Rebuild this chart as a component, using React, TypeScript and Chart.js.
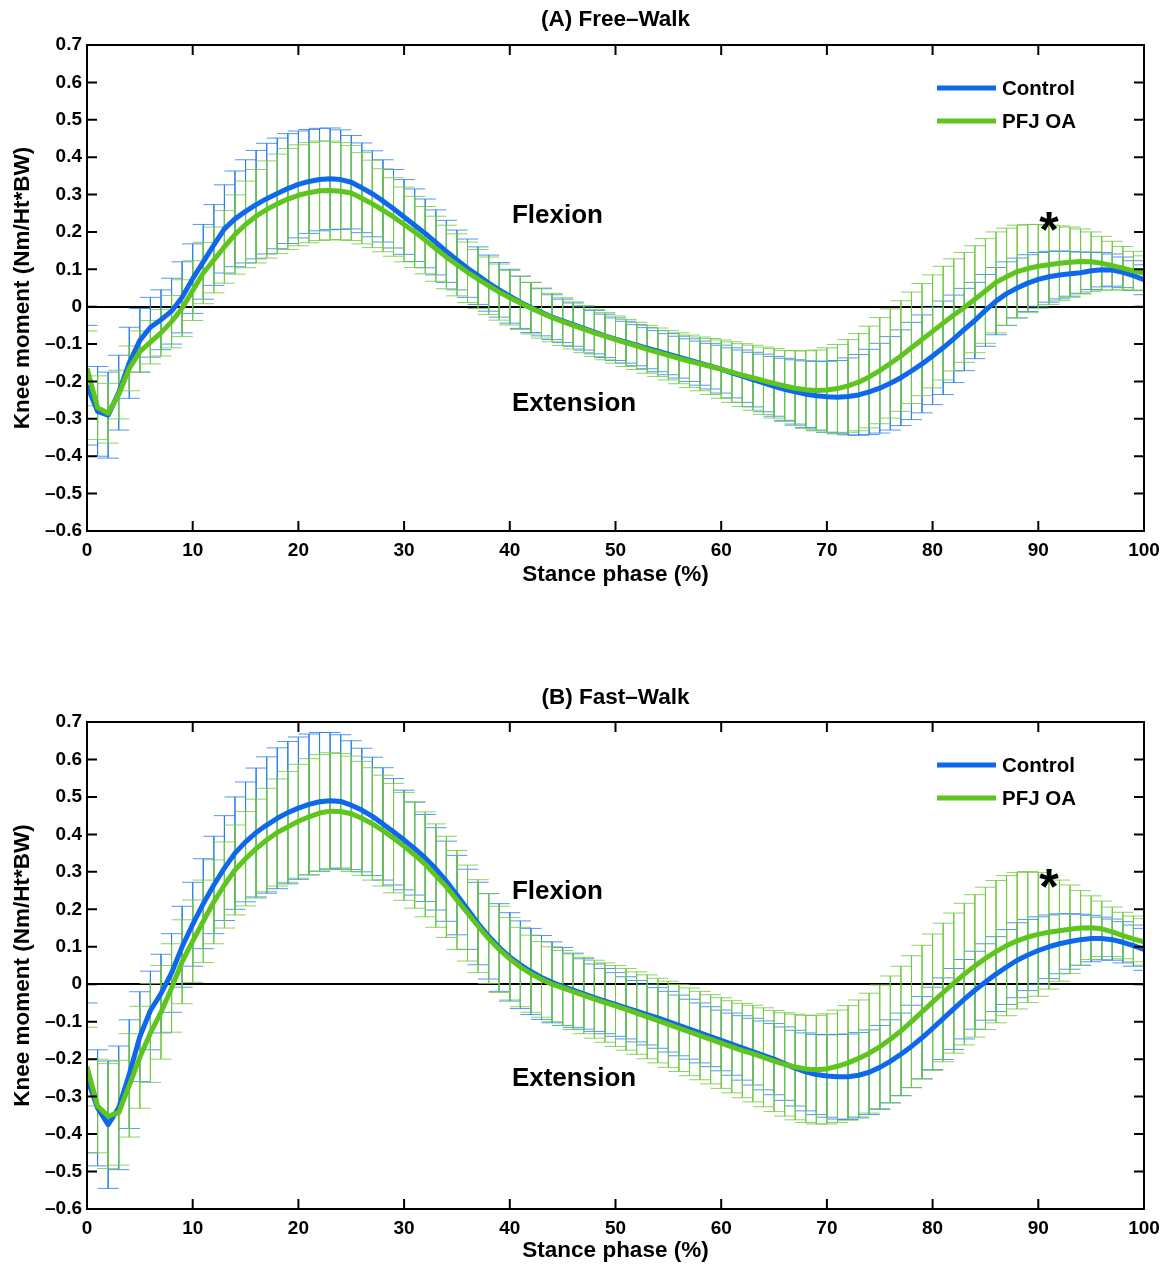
import React, { useEffect, useRef } from 'react';
import { Chart, registerables } from 'chart.js';

Chart.register(...registerables);

// ---------- data ----------
const stancePct = [
  0, 1, 2, 3, 4, 5, 6, 7, 8, 9, 10, 11, 12, 13, 14, 15, 16, 17, 18, 19, 20,
  21, 22, 23, 24, 25, 26, 27, 28, 29, 30, 31, 32, 33, 34, 35, 36, 37, 38, 39, 40,
  41, 42, 43, 44, 45, 46, 47, 48, 49, 50, 51, 52, 53, 54, 55, 56, 57, 58, 59, 60,
  61, 62, 63, 64, 65, 66, 67, 68, 69, 70, 71, 72, 73, 74, 75, 76, 77, 78, 79, 80,
  81, 82, 83, 84, 85, 86, 87, 88, 89, 90, 91, 92, 93, 94, 95, 96, 97, 98, 99, 100,
];

const seriesLabels = ['Control', 'PFJ OA'];
const panelTitles = ['(A) Free\u2013Walk', '(B) Fast\u2013Walk'];
const xAxisTitle = 'Stance phase (%)';
const yAxisTitle = 'Knee moment (Nm/Ht*BW)';
const xTickStep = 10;
const yTickStep = 0.1;
const xRange = [0, 100];
const yRange = [-0.6, 0.7];

// Panel A (free walk)
const controlMeanA = [
  -0.21, -0.28, -0.29, -0.23, -0.15, -0.09, -0.055, -0.035, -0.012, 0.025,
  0.075, 0.12, 0.165, 0.208, 0.235, 0.255, 0.273, 0.289, 0.303, 0.316,
  0.327, 0.335, 0.34, 0.342, 0.34, 0.333, 0.318, 0.302, 0.283, 0.262,
  0.24, 0.218, 0.196, 0.172, 0.148, 0.125, 0.103, 0.083, 0.063, 0.045,
  0.028, 0.012, -0.002, -0.015, -0.028, -0.038, -0.048, -0.058, -0.068, -0.078,
  -0.087, -0.095, -0.103, -0.111, -0.119, -0.127, -0.135, -0.143, -0.151, -0.159,
  -0.167, -0.177, -0.186, -0.195, -0.204, -0.213, -0.221, -0.228, -0.234, -0.238,
  -0.241, -0.242, -0.24, -0.236, -0.228, -0.218, -0.205, -0.19, -0.172, -0.153,
  -0.132, -0.11, -0.086, -0.061, -0.037, -0.01, 0.015, 0.035, 0.05, 0.063,
  0.073, 0.08, 0.085, 0.088, 0.091, 0.096, 0.099, 0.098, 0.092, 0.083,
  0.072,
];
const controlSdA = [
  0.16, 0.12, 0.115, 0.1, 0.095, 0.085, 0.08, 0.08, 0.088, 0.095,
  0.093, 0.1, 0.108, 0.118, 0.128, 0.138, 0.145, 0.148, 0.148, 0.147,
  0.143, 0.139, 0.137, 0.136, 0.133, 0.125, 0.12, 0.115, 0.11, 0.105,
  0.1, 0.097, 0.092, 0.087, 0.083, 0.08, 0.078, 0.077, 0.075, 0.073,
  0.072, 0.07, 0.067, 0.063, 0.06, 0.058, 0.058, 0.058, 0.058, 0.058,
  0.057, 0.056, 0.055, 0.055, 0.055, 0.055, 0.056, 0.057, 0.059, 0.061,
  0.064, 0.067, 0.07, 0.073, 0.077, 0.08, 0.083, 0.086, 0.089, 0.092,
  0.095, 0.098, 0.103, 0.108, 0.114, 0.12, 0.125, 0.128, 0.13, 0.131,
  0.13, 0.125, 0.117, 0.11, 0.102, 0.096, 0.09, 0.085, 0.08, 0.076,
  0.072, 0.068, 0.064, 0.06, 0.055, 0.05, 0.046, 0.043, 0.041, 0.04,
  0.04,
];
const pfjMeanA = [
  -0.165, -0.27, -0.285, -0.235, -0.165, -0.12, -0.095, -0.07, -0.04, -0.004,
  0.043, 0.09, 0.125, 0.16, 0.193, 0.22, 0.242, 0.26, 0.275, 0.288,
  0.298, 0.305, 0.31, 0.311, 0.309, 0.304, 0.29, 0.275, 0.258, 0.24,
  0.22, 0.2, 0.178, 0.155, 0.133, 0.112, 0.092, 0.074, 0.056, 0.039,
  0.024, 0.01, -0.004, -0.017, -0.029, -0.04, -0.05, -0.06, -0.07, -0.079,
  -0.088, -0.097, -0.105, -0.114, -0.122, -0.13, -0.138, -0.146, -0.153, -0.16,
  -0.167, -0.175, -0.183, -0.19, -0.198, -0.205, -0.212, -0.218, -0.222, -0.224,
  -0.223, -0.219, -0.212, -0.202, -0.188, -0.171, -0.152, -0.132, -0.11, -0.088,
  -0.066, -0.044, -0.022, -0.002, 0.02, 0.042, 0.065, 0.08, 0.094, 0.102,
  0.108, 0.112, 0.116, 0.119, 0.121, 0.12, 0.116, 0.11, 0.103, 0.096,
  0.09,
];
const pfjSdA = [
  0.1, 0.085, 0.08, 0.065, 0.06, 0.055, 0.058, 0.062, 0.07, 0.076,
  0.08, 0.082, 0.088, 0.097, 0.106, 0.116, 0.125, 0.13, 0.133, 0.135,
  0.135, 0.134, 0.133, 0.132, 0.13, 0.127, 0.122, 0.117, 0.111, 0.105,
  0.1, 0.095, 0.09, 0.087, 0.085, 0.083, 0.081, 0.079, 0.077, 0.075,
  0.073, 0.071, 0.069, 0.067, 0.065, 0.064, 0.063, 0.063, 0.063, 0.063,
  0.063, 0.063, 0.063, 0.064, 0.065, 0.066, 0.068, 0.07, 0.072, 0.075,
  0.078, 0.081, 0.084, 0.087, 0.09, 0.093, 0.095, 0.1, 0.104, 0.108,
  0.113, 0.118, 0.124, 0.13, 0.136, 0.142, 0.146, 0.148, 0.149, 0.15,
  0.151, 0.152, 0.15, 0.147, 0.143, 0.14, 0.135, 0.13, 0.124, 0.118,
  0.112, 0.106, 0.1, 0.094, 0.087, 0.08, 0.072, 0.065, 0.058, 0.052,
  0.046,
];

// Panel B (fast walk)
const controlMeanB = [
  -0.25, -0.33, -0.375, -0.33, -0.24, -0.14, -0.07, -0.025, 0.03, 0.1,
  0.16, 0.215, 0.265, 0.31, 0.35, 0.38, 0.405, 0.425, 0.443, 0.458,
  0.47, 0.48, 0.487, 0.49, 0.488, 0.478, 0.465, 0.448, 0.428, 0.407,
  0.385, 0.362, 0.337, 0.308, 0.275, 0.238, 0.2, 0.162, 0.128, 0.098,
  0.073, 0.052, 0.034, 0.018, 0.005, -0.006, -0.016, -0.026, -0.036, -0.045,
  -0.054, -0.063, -0.072, -0.081, -0.09, -0.1, -0.11, -0.12, -0.13, -0.14,
  -0.15, -0.16, -0.17, -0.18, -0.19, -0.2, -0.212, -0.224, -0.234, -0.241,
  -0.245, -0.247, -0.247, -0.243, -0.235, -0.222, -0.206, -0.187, -0.166, -0.143,
  -0.118, -0.092, -0.066, -0.04, -0.016, 0.006, 0.027, 0.046, 0.064, 0.078,
  0.09, 0.1, 0.108, 0.114, 0.119, 0.122, 0.122, 0.119, 0.112, 0.103,
  0.093,
];
const controlSdB = [
  0.2, 0.155, 0.17, 0.165, 0.145, 0.12, 0.105, 0.105, 0.105, 0.108,
  0.112, 0.12, 0.13, 0.14, 0.15, 0.16, 0.172, 0.182, 0.188, 0.19,
  0.19, 0.188, 0.185, 0.182, 0.178, 0.172, 0.165, 0.158, 0.15, 0.142,
  0.133, 0.124, 0.116, 0.11, 0.107, 0.106, 0.107, 0.11, 0.114, 0.117,
  0.118, 0.117, 0.115, 0.112, 0.108, 0.104, 0.099, 0.094, 0.09, 0.087,
  0.085, 0.083, 0.082, 0.081, 0.081, 0.081, 0.081, 0.08, 0.08, 0.08,
  0.081, 0.083, 0.086, 0.089, 0.092, 0.095, 0.098, 0.101, 0.104, 0.107,
  0.11, 0.113, 0.114, 0.114, 0.113, 0.112, 0.111, 0.11, 0.11, 0.11,
  0.11, 0.109, 0.108, 0.106, 0.104, 0.102, 0.1, 0.1, 0.1, 0.095,
  0.09, 0.085, 0.08, 0.074, 0.068, 0.062, 0.057, 0.055, 0.055, 0.055,
  0.056,
];
const pfjMeanB = [
  -0.22, -0.325, -0.352, -0.343, -0.27, -0.195, -0.13, -0.075, -0.01, 0.06,
  0.115, 0.168, 0.22, 0.265, 0.305, 0.335, 0.362, 0.385, 0.405, 0.42,
  0.435, 0.447, 0.457, 0.462, 0.461, 0.455, 0.443, 0.428, 0.41, 0.39,
  0.368, 0.345, 0.32, 0.29, 0.26, 0.225, 0.19, 0.155, 0.122, 0.093,
  0.068, 0.046, 0.028, 0.013, 0.0, -0.01, -0.02, -0.03, -0.04, -0.049,
  -0.058, -0.067, -0.077, -0.087, -0.097, -0.107, -0.117, -0.127, -0.137, -0.147,
  -0.157, -0.167, -0.177, -0.185, -0.195, -0.205, -0.214, -0.221, -0.226, -0.228,
  -0.226, -0.219, -0.21, -0.198, -0.184, -0.167, -0.147, -0.125, -0.1, -0.074,
  -0.048, -0.022, 0.003, 0.027, 0.049, 0.069, 0.087, 0.103, 0.116, 0.126,
  0.133, 0.139, 0.143, 0.147, 0.15, 0.151, 0.148, 0.14, 0.13, 0.121,
  0.113,
];
const pfjSdB = [
  0.105, 0.125, 0.14, 0.14, 0.138, 0.136, 0.132, 0.125, 0.118, 0.112,
  0.11, 0.11, 0.112, 0.115, 0.12, 0.126, 0.132, 0.138, 0.143, 0.148,
  0.152, 0.155, 0.156, 0.156, 0.155, 0.154, 0.152, 0.15, 0.148, 0.146,
  0.144, 0.142, 0.14, 0.138, 0.135, 0.132, 0.128, 0.124, 0.12, 0.115,
  0.11, 0.106, 0.103, 0.101, 0.1, 0.1, 0.101, 0.102, 0.104, 0.106,
  0.108, 0.109, 0.11, 0.112, 0.113, 0.115, 0.116, 0.117, 0.118, 0.119,
  0.121, 0.123, 0.126, 0.129, 0.132, 0.135, 0.138, 0.141, 0.143, 0.145,
  0.147, 0.15, 0.153, 0.156, 0.16, 0.165, 0.169, 0.173, 0.176, 0.178,
  0.182, 0.185, 0.187, 0.189, 0.19, 0.19, 0.19, 0.187, 0.182, 0.175,
  0.165, 0.152, 0.135, 0.118, 0.1, 0.085, 0.074, 0.066, 0.062, 0.061,
  0.062,
];

// text annotations (data coordinates)
const annotationsA = [
  { text: 'Flexion', x: 40.2, y: 0.246 },
  { text: 'Extension', x: 40.2, y: -0.257 },
];
const annotationsB = [
  { text: 'Flexion', x: 40.2, y: 0.249 },
  { text: 'Extension', x: 40.2, y: -0.251 },
];
const starA = { text: '*', x: 91, y: 0.235 };
const starB = { text: '*', x: 91, y: 0.29 };

// ---------- styling ----------
const FONT = '"Liberation Sans", Arial, Helvetica, sans-serif';
const BLUE = '#0f68ec';
const GREEN = '#5ec41e';
const BLUE_ERR = 'rgba(40,125,240,0.8)';
const GREEN_ERR = 'rgba(110,200,60,0.8)';
const W = 1173;

function errorBarPoints(mean: number[], sd: number[]) {
  const pts: { x: number; y: number | null }[] = [];
  stancePct.forEach((x, i) => {
    const hi = mean[i] + sd[i];
    const lo = mean[i] - sd[i];
    pts.push(
      { x: x - 1, y: hi }, { x: x + 1, y: hi }, { x, y: null },
      { x, y: hi }, { x, y: lo }, { x, y: null },
      { x: x - 1, y: lo }, { x: x + 1, y: lo }, { x, y: null },
    );
  });
  return pts;
}

function meanPoints(mean: number[]) {
  return stancePct.map((x, i) => ({ x, y: mean[i] }));
}

function fmtY(v: number) {
  if (Math.abs(v) < 1e-9) return '0';
  const s = Math.abs(v).toFixed(1);
  return v < 0 ? '\u2013' + s : s;
}

type PanelProps = {
  title: string;
  control: number[];
  controlSd: number[];
  pfj: number[];
  pfjSd: number[];
  notes: { text: string; x: number; y: number }[];
  star: { text: string; x: number; y: number };
  top: number;
  height: number;
  areaTop: number;
  titleY: number;
  xAxisHeight: number;
  xTitlePadBottom: number;
};

function Panel(p: PanelProps) {
  const ref = useRef<HTMLCanvasElement>(null);
  useEffect(() => {
    const decor = {
      id: 'decor',
      afterDatasetsDraw(chart: any) {
        const { ctx, chartArea: a, scales } = chart;
        const xs = scales.x;
        const ys = scales.y;
        ctx.save();
        // panel title
        ctx.fillStyle = '#000';
        ctx.font = `bold 22.5px ${FONT}`;
        ctx.textAlign = 'center';
        ctx.textBaseline = 'middle';
        ctx.fillText(p.title, (a.left + a.right) / 2, p.titleY);
        // annotations
        ctx.font = `bold 26px ${FONT}`;
        ctx.textAlign = 'left';
        ctx.textBaseline = 'middle';
        p.notes.forEach((n) => {
          ctx.fillText(n.text, xs.getPixelForValue(n.x), ys.getPixelForValue(n.y) + 1);
        });
        ctx.font = `bold 50px ${FONT}`;
        ctx.textAlign = 'center';
        ctx.textBaseline = 'alphabetic';
        ctx.fillText(p.star.text, xs.getPixelForValue(p.star.x), ys.getPixelForValue(p.star.y) + 28);
        // legend
        const legendRows = [
          { label: chart.data.datasets[0].label, color: chart.data.datasets[0].borderColor, dy: 43 },
          { label: chart.data.datasets[1].label, color: chart.data.datasets[1].borderColor, dy: 76 },
        ];
        ctx.font = `bold 20.5px ${FONT}`;
        ctx.textAlign = 'left';
        ctx.textBaseline = 'middle';
        legendRows.forEach((r) => {
          const yy = a.top + r.dy;
          ctx.strokeStyle = r.color;
          ctx.lineWidth = 5;
          ctx.beginPath();
          ctx.moveTo(a.right - 207, yy);
          ctx.lineTo(a.right - 148, yy);
          ctx.stroke();
          ctx.fillStyle = '#000';
          ctx.fillText(r.label, a.right - 142, yy + 1);
        });
        // frame + inward ticks
        ctx.strokeStyle = '#000';
        ctx.lineWidth = 2;
        ctx.strokeRect(a.left, a.top, a.right - a.left, a.bottom - a.top);
        ctx.beginPath();
        xs.ticks.forEach((t: any) => {
          const px = xs.getPixelForValue(t.value);
          ctx.moveTo(px, a.bottom);
          ctx.lineTo(px, a.bottom - 10);
          ctx.moveTo(px, a.top);
          ctx.lineTo(px, a.top + 10);
        });
        ys.ticks.forEach((t: any) => {
          const py = ys.getPixelForValue(t.value);
          ctx.moveTo(a.left, py);
          ctx.lineTo(a.left + 10, py);
          ctx.moveTo(a.right, py);
          ctx.lineTo(a.right - 10, py);
        });
        ctx.stroke();
        ctx.restore();
      },
    };

    const chart = new Chart(ref.current as HTMLCanvasElement, {
      type: 'line',
      data: {
        datasets: [
          {
            label: seriesLabels[0],
            data: meanPoints(p.control),
            borderColor: BLUE,
            borderWidth: 5,
            pointRadius: 0,
            tension: 0,
            borderJoinStyle: 'round',
            order: 1,
          },
          {
            label: seriesLabels[1],
            data: meanPoints(p.pfj),
            borderColor: GREEN,
            borderWidth: 5,
            pointRadius: 0,
            tension: 0,
            borderJoinStyle: 'round',
            order: 0,
          },
          {
            label: 'Control SD',
            data: errorBarPoints(p.control, p.controlSd),
            borderColor: BLUE_ERR,
            borderWidth: 1,
            pointRadius: 0,
            tension: 0,
            spanGaps: false,
            order: 3,
          },
          {
            label: 'PFJ OA SD',
            data: errorBarPoints(p.pfj, p.pfjSd),
            borderColor: GREEN_ERR,
            borderWidth: 1,
            pointRadius: 0,
            tension: 0,
            spanGaps: false,
            order: 2,
          },
        ] as any,
      },
      options: {
        responsive: false,
        animation: false,
        devicePixelRatio: 1,
        events: [],
        layout: { padding: { left: 0, right: 29, top: p.areaTop, bottom: 0 } },
        plugins: {
          legend: { display: false },
          tooltip: { enabled: false },
          title: { display: false },
        },
        scales: {
          x: {
            type: 'linear',
            min: xRange[0],
            max: xRange[1],
            grid: { display: false, drawTicks: false },
            border: { display: false },
            ticks: {
              stepSize: xTickStep,
              padding: 8,
              color: '#000',
              maxRotation: 0,
              font: { family: FONT, size: 19, weight: 'bold' },
            },
            title: {
              display: true,
              text: xAxisTitle,
              color: '#000',
              font: { family: FONT, size: 22.5, weight: 'bold' },
              padding: { top: 0, bottom: p.xTitlePadBottom },
            },
            afterFit: (s: any) => {
              s.height = p.xAxisHeight;
            },
          },
          y: {
            type: 'linear',
            min: yRange[0],
            max: yRange[1],
            border: { display: false },
            grid: {
              drawTicks: false,
              lineWidth: 2,
              color: (c: any) => (c.tick && Math.abs(c.tick.value) < 1e-9 ? '#000' : 'rgba(0,0,0,0)'),
            },
            ticks: {
              stepSize: yTickStep,
              padding: 5,
              color: '#000',
              font: { family: FONT, size: 19, weight: 'bold' },
              callback: (v: any) => fmtY(Number(v)),
            },
            title: {
              display: true,
              text: yAxisTitle,
              color: '#000',
              font: { family: FONT, size: 22.5, weight: 'bold' },
              padding: { top: 9, bottom: 0 },
            },
            afterFit: (s: any) => {
              s.width = 87;
            },
          },
        },
      } as any,
      plugins: [decor],
    });
    return () => chart.destroy();
  }, []);
  return (
    <canvas
      ref={ref}
      width={W}
      height={p.height}
      style={{ position: 'absolute', left: 0, top: p.top, display: 'block', width: W, height: p.height }}
    />
  );
}

export default function App() {
  return (
    <div style={{ position: 'absolute', left: 0, top: 0, width: W, height: 1267, background: '#fff' }}>
      <Panel
        title={panelTitles[0]}
        control={controlMeanA}
        controlSd={controlSdA}
        pfj={pfjMeanA}
        pfjSd={pfjSdA}
        notes={annotationsA}
        star={starA}
        top={0}
        height={633}
        areaTop={45}
        titleY={20}
        xAxisHeight={102}
        xTitlePadBottom={44.5}
      />
      <Panel
        title={panelTitles[1]}
        control={controlMeanB}
        controlSd={controlSdB}
        pfj={pfjMeanB}
        pfjSd={pfjSdB}
        notes={annotationsB}
        star={starB}
        top={633}
        height={634}
        areaTop={89}
        titleY={65}
        xAxisHeight={58}
        xTitlePadBottom={2.5}
      />
    </div>
  );
}
